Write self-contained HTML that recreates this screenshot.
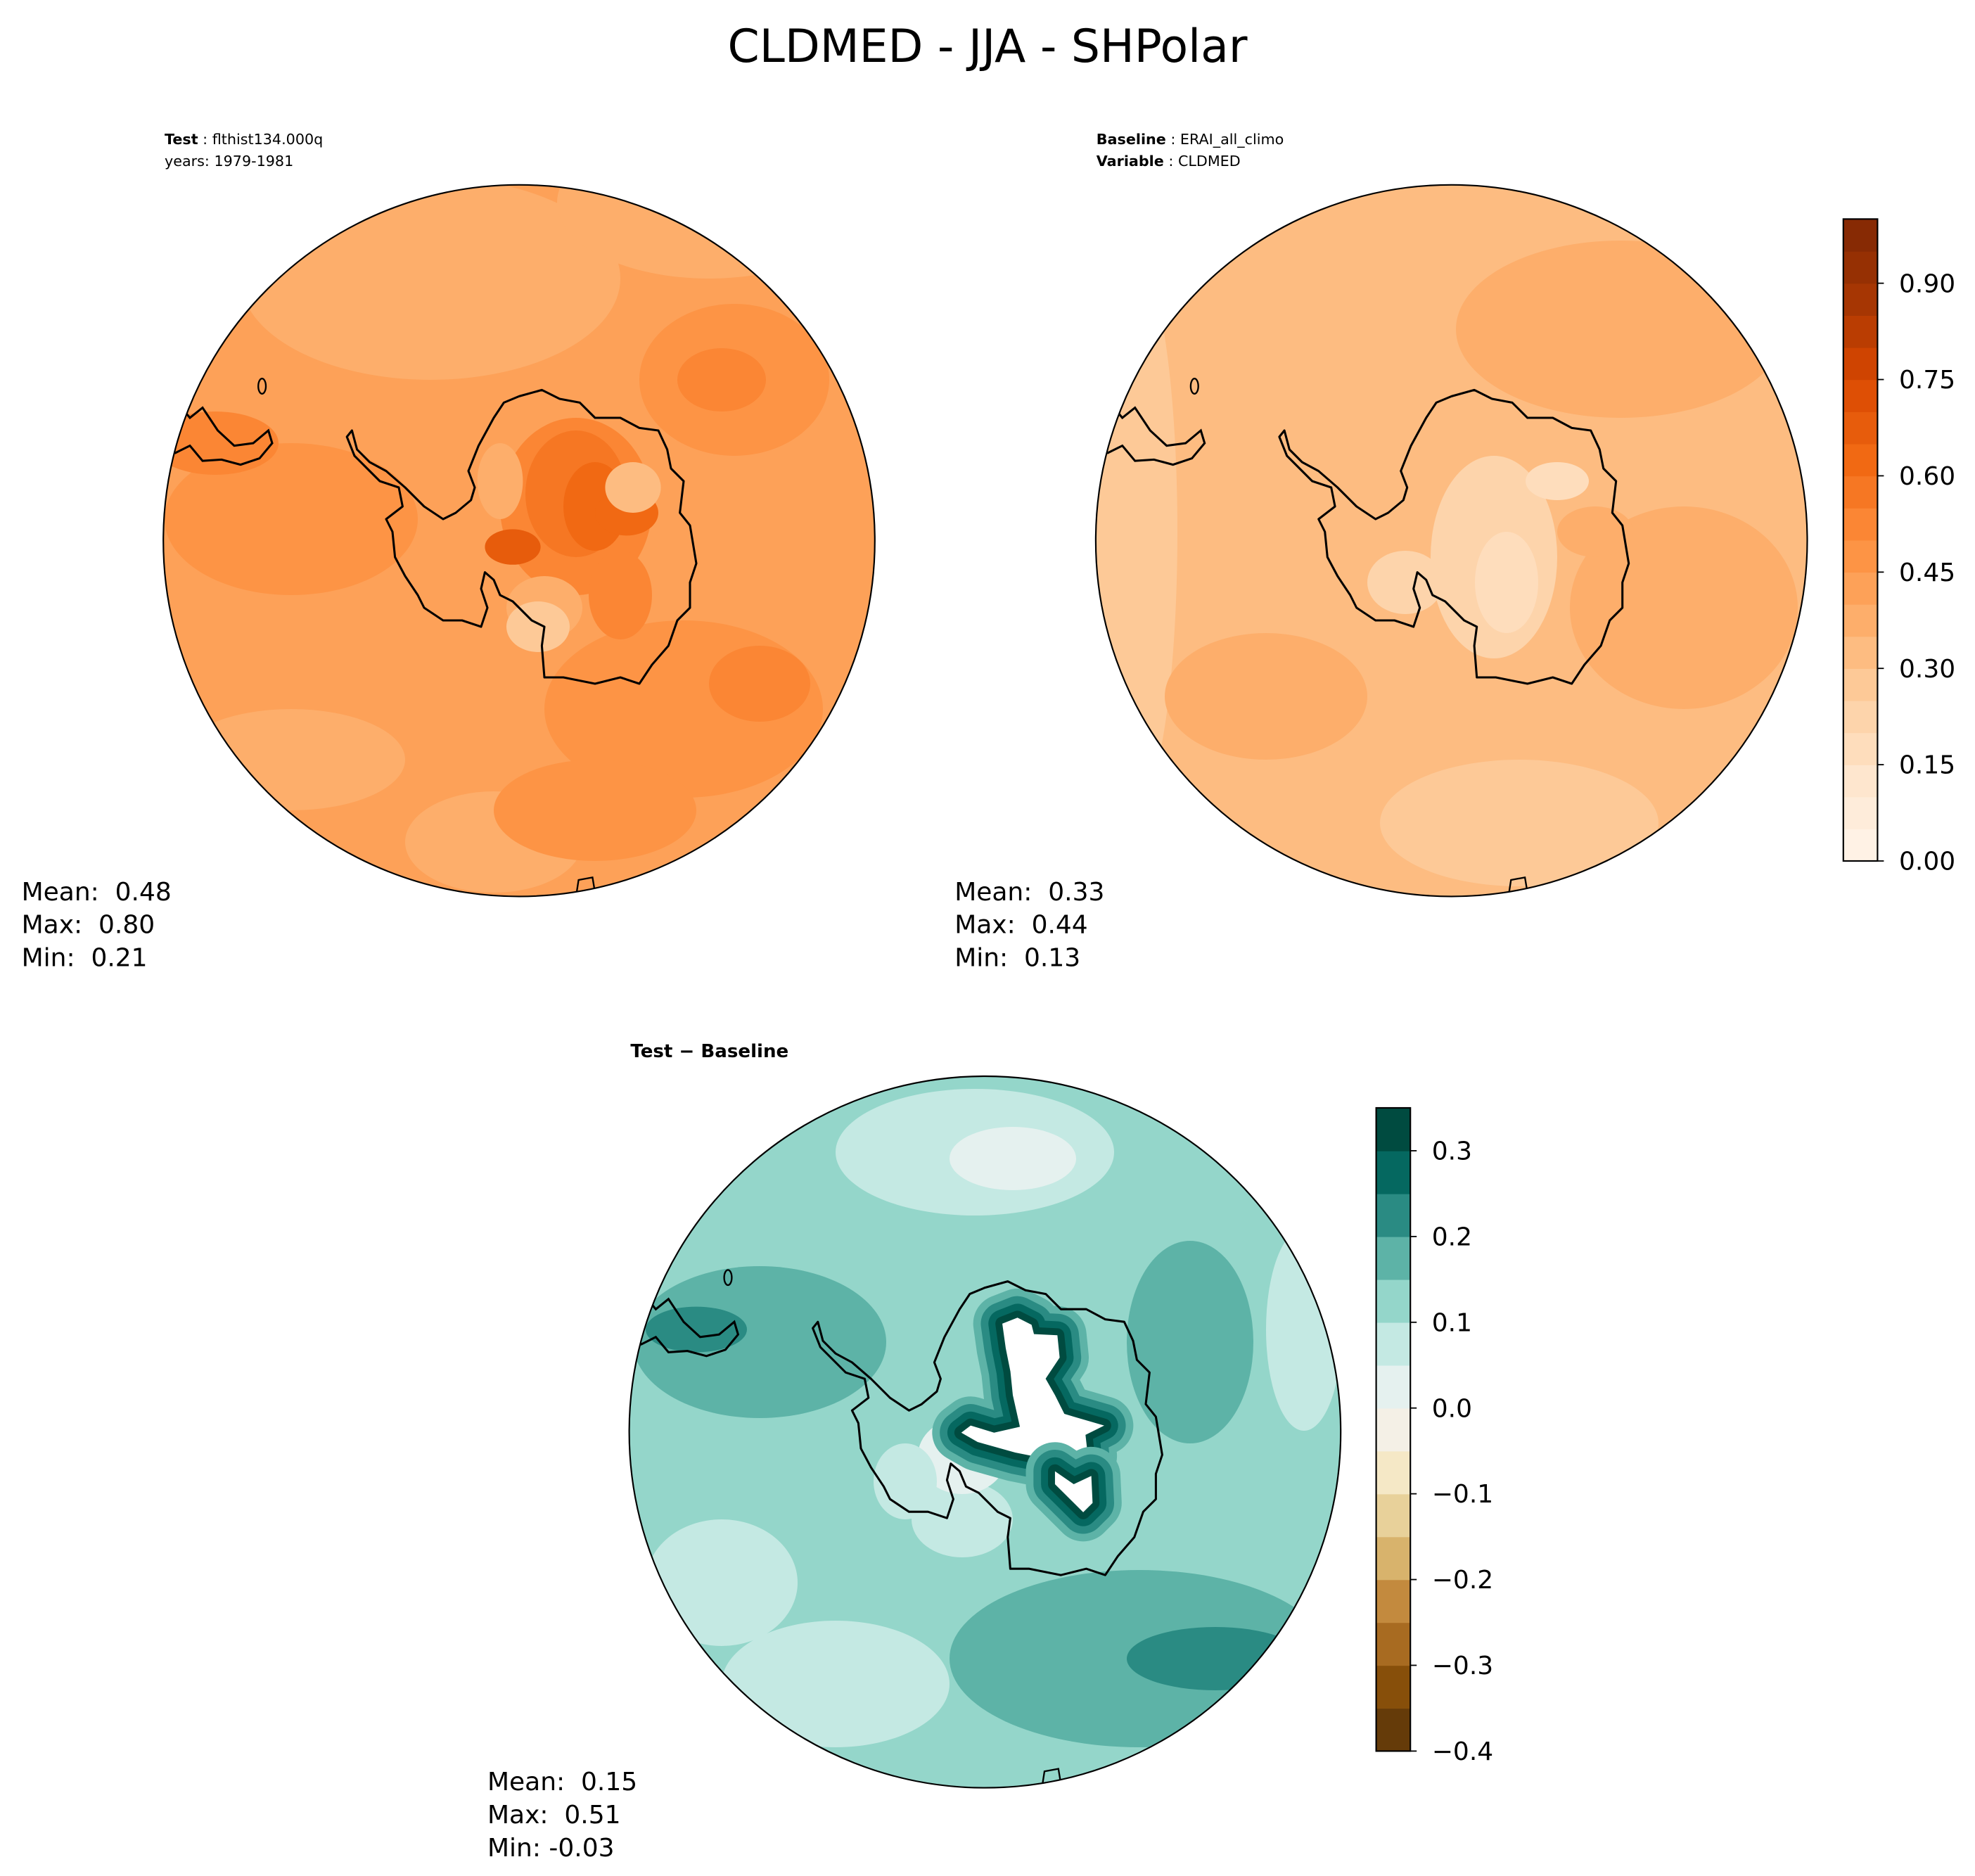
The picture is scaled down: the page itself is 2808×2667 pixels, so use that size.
<!DOCTYPE html>
<html><head><meta charset="utf-8">
<style>
html,body{margin:0;padding:0;background:#fff;}
svg{display:block;font-family:"DejaVu Sans","Liberation Sans",sans-serif;}
text{white-space:pre;}
</style></head>
<body>
<svg id="fig" width="2808" height="2667" viewBox="0 0 1560 1481.67" xmlns="http://www.w3.org/2000/svg" xml:space="preserve">
<rect width="1560" height="1481.67" fill="#fff"/>
<text x="780" y="49" font-size="36" text-anchor="middle">CLDMED - JJA - SHPolar</text>
<g font-size="11.5">
<text x="130" y="114"><tspan font-weight="bold">Test</tspan> : flthist134.000q</text>
<text x="130" y="131">years: 1979-1981</text>
</g>
<g font-size="11.5">
<text x="866" y="114"><tspan font-weight="bold">Baseline</tspan> : ERAI_all_climo</text>
<text x="866" y="131"><tspan font-weight="bold">Variable</tspan> : CLDMED</text>
</g>
<text x="498" y="835" font-size="14.5" font-weight="bold">Test − Baseline</text>
<g font-size="20">
<text x="17" y="711">Mean:  0.48</text><text x="17" y="737">Max:  0.80</text><text x="17" y="763">Min:  0.21</text>
</g>
<g font-size="20">
<text x="754" y="711">Mean:  0.33</text><text x="754" y="737">Max:  0.44</text><text x="754" y="763">Min:  0.13</text>
</g>
<g font-size="20">
<text x="385" y="1414">Mean:  0.15</text><text x="385" y="1440">Max:  0.51</text><text x="385" y="1466">Min: -0.03</text>
</g>
<g id="maps"></g>
<g id="cbars"></g>
</svg>
<script>
const NS="http://www.w3.org/2000/svg";
const orangeLevels=[0,0.05,0.1,0.15,0.2,0.25,0.3,0.35,0.4,0.45,0.5,0.55,0.6,0.65,0.7,0.75,0.8,0.85,0.9,0.95,1.0];
const orangeTicks=[0,0.15,0.3,0.45,0.6,0.75,0.9];
const orangeTickLabels=["0.00","0.15","0.30","0.45","0.60","0.75","0.90"];
const diffLevels=[-0.4,-0.35,-0.3,-0.25,-0.2,-0.15,-0.1,-0.05,0,0.05,0.1,0.15,0.2,0.25,0.3,0.35];
const diffColors=["#653b09","#874f0a","#a86b21","#c38a3e","#d8b36c","#e8d19a","#f5e8c6","#f4f0e6","#e5f1ef","#c4e9e3","#94d6ca","#5db3a7","#2a8b83","#056860","#004b40"];
const diffTicks=[-0.4,-0.3,-0.2,-0.1,0,0.1,0.2,0.3];
const diffTickLabels=["−0.4","−0.3","−0.2","−0.1","0.0","0.1","0.2","0.3"];
const testBase=0.425;
const testRegions=[[340,220,150,80,0.375],[560,160,120,60,0.375],[230,600,90,40,0.375],[390,665,70,40,0.375],[580,300,75,60,0.475],[570,300,35,25,0.525],[230,410,100,60,0.475],[540,560,110,70,0.475],[600,540,40,30,0.525],[170,350,50,25,0.525],[470,640,80,40,0.475],
[455,400,60,70,0.525],[455,390,40,50,0.575],[470,400,25,35,0.625],[405,432,22,14,0.675],[495,405,25,18,0.625],[430,480,30,25,0.375],[425,495,25,20,0.275],[500,385,22,20,0.325],[395,380,18,30,0.375],[490,470,25,35,0.525]];
const baseBase=0.325;
const baseRegions=[[895,420,35,220,0.275],[1280,260,130,70,0.375],[1330,480,90,80,0.375],[1200,650,110,50,0.275],[1000,550,80,50,0.375],[1180,440,50,80,0.225],[1190,460,25,40,0.175],[1110,460,30,25,0.225],[1230,380,25,15,0.175],[1260,420,30,20,0.375]];
const diffBase=0.125;
const diffRegions=[[770,910,110,50,0.075],[800,915,50,25,0.025],[570,1250,60,50,0.075],[660,1330,90,50,0.075],[760,1200,40,30,0.075],[600,1060,100,60,0.175],[940,1060,50,80,0.175],[900,1310,150,70,0.175],[960,1310,70,25,0.225],[550,1050,40,18,0.225],[1030,1050,30,80,0.075],[760,1150,35,30,0.025],[715,1170,25,30,0.075]];
const coastAbs=[[398,318],[410,313],[428,308],[442,315],[458,318],[470,330],[490,330],[505,338],[520,340],[527,355],[530,370],[540,380],[537,405],[545,415],[550,445],[545,460],[545,480],[535,490],[528,510],[515,525],[505,540],[490,535],[470,540],[445,535],[430,535],[428,510],[430,495],[420,490],[405,475],[395,470],[390,458],[383,452],[380,465],[385,480],[380,495],[365,490],[350,490],[335,480],[330,470],[320,455],[312,440],[310,420],[305,410],[318,400],[315,385],[300,380],[290,370],[280,360],[274,345],[278,340],[282,355],[292,365],[305,372],[320,385],[335,400],[350,410],[360,405],[372,395],[375,385],[370,372],[378,352],[390,330]];
const saAbs=[[140,318],[150,330],[160,322],[172,340],[185,352],[200,350],[212,340],[215,350],[205,362],[190,367],[175,363],[160,364],[150,352],[138,358]];
const cxs=[[410,427],[1146.5,427],[778,1131]];const R=281;
function lerpHex(a,b,t){const pa=[1,3,5].map(i=>parseInt(a.substr(i,2),16)),pb=[1,3,5].map(i=>parseInt(b.substr(i,2),16));return "rgb("+pa.map((v,i)=>Math.round(v+(pb[i]-v)*t)).join(",")+")";}
const orAnch=["#fff5eb","#fee6ce","#fdd0a2","#fdae6b","#fd8d3c","#f16913","#d94801","#a63603","#7f2704"];
function orangeAt(t){t=Math.max(0,Math.min(1,t));const s=t*8,i=Math.min(7,Math.floor(s));return lerpHex(orAnch[i],orAnch[i+1],s-i);}
function orangeColor(v){const i=Math.max(0,Math.min(19,Math.floor(v/0.05)));return orangeAt((i+0.5)/20);}
function diffColor(v){let i=0;while(i<diffColors.length-1&&v>=diffLevels[i+1])i++;return diffColors[i];}
function el(tag,attrs,parent){const e=document.createElementNS(NS,tag);for(const k in attrs)e.setAttribute(k,attrs[k]);parent.appendChild(e);return e;}
const maps=document.getElementById('maps');
function drawMap(idx,name,base,regions,cf){
  const [cx,cy]=cxs[idx];const off=cx-410,offy=cy-427;
  const g=el('g',{},maps);
  
  
  const defs=el('defs',{},g);const cp=el('clipPath',{id:'clip'+idx},defs);el('circle',{cx:cx,cy:cy,r:R},cp);
  const inner=el('g',{'clip-path':'url(#clip'+idx+')'},g);
  const bg=el('circle',{cx:cx,cy:cy,r:R,fill:cf(base)},inner);
  
  
  regions.forEach(r=>{const e=el('ellipse',{cx:r[0],cy:r[1],rx:r[2],ry:r[3],fill:cf(r[4])},inner);
    
    });
  if(idx==2){
    const zw=[[375,395],[440,370],[500,400],[510,440],[610,445],[620,540],[560,630],[600,700],[640,780],[810,830],[730,870],[740,960],[630,985],[430,945],[270,900],[200,860],[240,830],[340,860],[450,835],[420,700],[410,600],[390,500]];
    const zs=[[600,1025],[680,1080],[755,1045],[760,1160],[720,1200],[600,1080]];
    const conv=p=>((1300+p[0]/3)/1.8).toFixed(1)+","+((1750+p[1]/3)/1.8).toFixed(1);
    const sw=[[46,"#5db3a7"],[34,"#2a8b83"],[22,"#056860"],[11,"#004b40"]];
    [zw,zs].forEach(poly=>{sw.forEach(s=>{const p=el('polygon',{points:poly.map(conv).join(" "),fill:s[1],stroke:s[1],'stroke-width':s[0],'stroke-linejoin':'round'},inner);
      
      });
      const w=el('polygon',{points:poly.map(conv).join(" "),fill:"#fff"},inner);
      
      });
  }
  const coast=el('polygon',{points:coastAbs.map(p=>(p[0]+off)+","+(p[1]+offy)).join(" "),fill:'none',stroke:'#000','stroke-width':1.7,'stroke-linejoin':'round'},inner);
  
  
  const sa=el('polyline',{points:saAbs.map(p=>(p[0]+off)+","+(p[1]+offy)).join(" "),fill:'none',stroke:'#000','stroke-width':1.7},inner);
  
  
  const isl=el('ellipse',{cx:207+off,cy:305+offy,rx:3,ry:6,fill:'none',stroke:'#000','stroke-width':1.3},inner);
  
  
  const isl2=el('path',{d:`M${455+off},${708+offy} L${457+off},${695+offy} L${468+off},${693+offy} L${470+off},${705+offy}`,fill:'none',stroke:'#000','stroke-width':1.3},inner);
  
  
  const ring=el('circle',{cx:cx,cy:cy,r:R,fill:'none',stroke:'#000','stroke-width':1.2},g);
  
  
}
drawMap(0,'test-map',testBase,testRegions,orangeColor);
drawMap(1,'baseline-map',baseBase,baseRegions,orangeColor);
drawMap(2,'difference-map',diffBase,diffRegions,diffColor);
const cb=document.getElementById('cbars');
function drawBar(name,x,y0,y1,levels,colorFn,ticks,labels){
  const g=el('g',{},cb);
  
  
  const lo=levels[0],hi=levels[levels.length-1];
  const sy=v=>y1-(v-lo)/(hi-lo)*(y1-y0);
  for(let i=0;i<levels.length-1;i++){
    const r=el('rect',{x:x,y:sy(levels[i+1]),width:27,height:sy(levels[i])-sy(levels[i+1])+0.4,fill:colorFn(i)},g);
    
    
  }
  el('rect',{x:x,y:y0,width:27,height:y1-y0,fill:'none',stroke:'#000','stroke-width':1.2},g);
  ticks.forEach((t,i)=>{
    el('line',{x1:x+27,x2:x+32,y1:sy(t),y2:sy(t),stroke:'#000','stroke-width':1},g);
    const tx=el('text',{x:x+44,y:sy(t)+7,'font-size':20},g);tx.textContent=labels[i];
    
    
  });
}
drawBar('test-colorbar',1456,173,680,orangeLevels,i=>orangeAt((i+0.5)/20),orangeTicks,orangeTickLabels);
drawBar('diff-colorbar',1087,875,1383,diffLevels,i=>diffColors[i],diffTicks,diffTickLabels);
</script>
</body></html>
